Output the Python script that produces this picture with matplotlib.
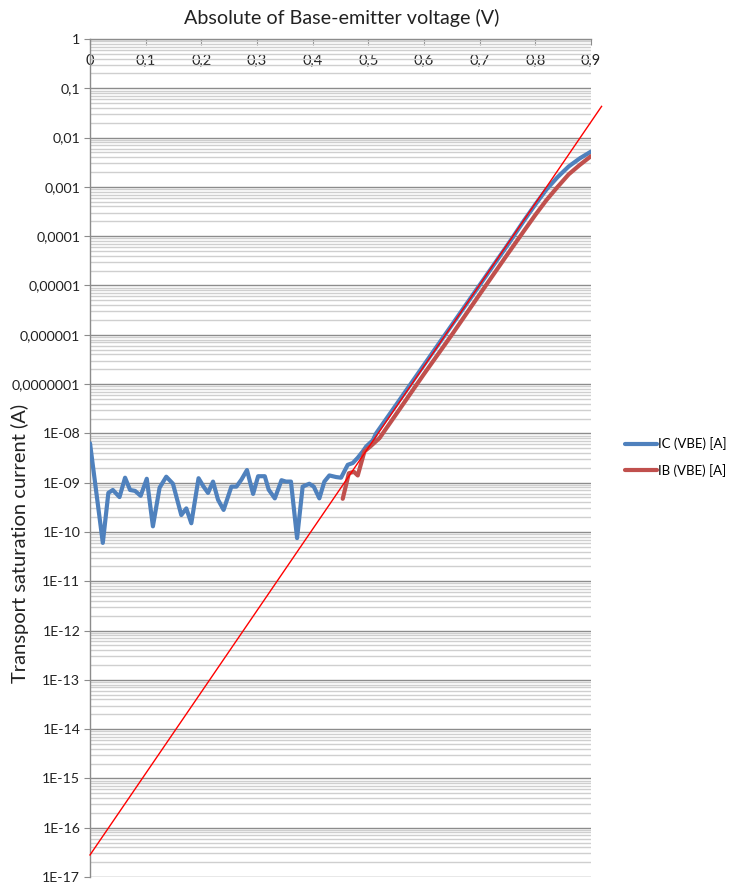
"""
Gummel-style plot: IC and IB against |VBE| on a log current axis
"""

import numpy as np
import matplotlib.pyplot as plt
from matplotlib.ticker import FixedLocator, FixedFormatter, NullFormatter

plt.rcParams["font.family"] = ["Lato", "DejaVu Sans"]

# collector current sweep
vbe_ic = [0.000, 0.023, 0.033, 0.041, 0.053, 0.063, 0.072, 0.081, 0.091, 0.102,
          0.113, 0.125, 0.137, 0.149, 0.164, 0.173, 0.182, 0.195, 0.204, 0.212,
          0.221, 0.230, 0.240, 0.254, 0.263, 0.272, 0.282, 0.293, 0.302, 0.314,
          0.321, 0.332, 0.344, 0.352, 0.361, 0.372, 0.382, 0.394, 0.402, 0.412,
          0.421, 0.430, 0.442, 0.451, 0.463, 0.472, 0.481, 0.490, 0.496, 0.508,
          0.514, 0.55, 0.60, 0.65, 0.70, 0.75, 0.78, 0.80, 0.82, 0.84,
          0.86, 0.88, 0.90]
ic = [6.3e-9, 6.0e-11, 6.2e-10, 7.1e-10, 5.1e-10, 1.26e-9, 7.1e-10, 6.8e-10, 5.4e-10, 1.2e-9,
      1.3e-10, 7.9e-10, 1.32e-9, 9.5e-10, 2.2e-10, 3.0e-10, 1.5e-10, 1.23e-9, 8.3e-10, 6.2e-10,
      1.05e-9, 4.5e-10, 2.8e-10, 8.3e-10, 8.3e-10, 1.15e-9, 1.8e-9, 5.9e-10, 1.35e-9, 1.35e-9,
      7.2e-10, 4.8e-10, 1.12e-9, 1.05e-9, 1.05e-9, 7.5e-11, 8.3e-10, 9.5e-10, 8.3e-10, 4.8e-10,
      1.05e-9, 1.4e-9, 1.3e-9, 1.26e-9, 2.3e-9, 2.5e-9, 3.2e-9, 4.3e-9, 5.4e-9, 7.2e-9,
      1.0e-8, 3.8e-8, 2.45e-7, 1.58e-6, 1.02e-5, 6.6e-5, 2.1e-4, 4.4e-4, 8.9e-4, 1.58e-3,
      2.6e-3, 3.8e-3, 5.2e-3]

# base current sweep
vbe_ib = [0.454, 0.465, 0.474, 0.481, 0.493, 0.505, 0.52, 0.55, 0.60, 0.65,
          0.70, 0.75, 0.78, 0.80, 0.82, 0.84, 0.86, 0.88, 0.90]
ib = [4.7e-10, 1.55e-9, 1.66e-9, 1.4e-9, 4.3e-9, 5.6e-9, 8.0e-9, 2.45e-8, 1.6e-7, 1.0e-6,
      6.6e-6, 4.3e-5, 1.3e-4, 2.7e-4, 5.4e-4, 1.0e-3, 1.8e-3, 2.8e-3, 4.2e-3]

# exponential trendline end points
trend_v = [0.0, 0.919]
trend_i = [2.8e-17, 0.043]

y_ticks = [10.0 ** -k for k in range(18)]
y_labels = ["1", "0,1", "0,01", "0,001", "0,0001", "0,00001", "0,000001", "0,0000001",
            "1E-08", "1E-09", "1E-10", "1E-11", "1E-12", "1E-13", "1E-14", "1E-15",
            "1E-16", "1E-17"]
x_ticks = [0.0, 0.1, 0.2, 0.3, 0.4, 0.5, 0.6, 0.7, 0.8, 0.9]
x_labels = ["0", "0,1", "0,2", "0,3", "0,4", "0,5", "0,6", "0,7", "0,8", "0,9"]

fig = plt.figure(figsize=(7.32, 8.86), dpi=100)
ax = fig.add_axes([90 / 732, 1 - 877 / 886, 501 / 732, 838 / 886])

ax.set_yscale("log")
ax.set_ylim(1e-17, 1)
ax.set_xlim(0, 0.9)

ax.plot(vbe_ic, ic, color="#4F81BD", lw=3.0, solid_joinstyle="round",
        solid_capstyle="round", label="IC (VBE) [A]", zorder=3)
ax.plot(vbe_ib, ib, color="#C0504D", lw=3.0, solid_joinstyle="round",
        solid_capstyle="round", label="IB (VBE) [A]", zorder=4)
ax.plot(trend_v, trend_i, color="#FF0000", lw=1.0, clip_on=False, zorder=5)

# y axis: major + minor horizontal grid
ax.yaxis.set_major_locator(FixedLocator(y_ticks))
ax.yaxis.set_major_formatter(FixedFormatter(y_labels))
ax.yaxis.set_minor_locator(FixedLocator(
    [m * 10.0 ** -k for k in range(1, 18) for m in range(2, 10)]))
ax.yaxis.set_minor_formatter(NullFormatter())
ax.grid(which="major", axis="y", color="#8c8c8c", lw=1.0)
ax.grid(which="minor", axis="y", color="#cfcfcf", lw=1.0)
ax.tick_params(axis="y", which="major", direction="out", length=4, width=0.8,
               color="#8c8c8c", labelsize=10.2, pad=3, labelcolor="#222222")
ax.tick_params(axis="y", which="minor", length=0)

# x axis drawn along the top, labels sitting just under it
ax.xaxis.set_major_locator(FixedLocator(x_ticks))
ax.xaxis.set_major_formatter(FixedFormatter(x_labels))
ax.tick_params(axis="x", bottom=False, labelbottom=False, top=True, labeltop=True,
               direction="in", length=4, width=0.8, color="#8c8c8c",
               labelsize=10.5, pad=-21, labelcolor="#222222")

for side in ["right", "bottom"]:
    ax.spines[side].set_visible(False)
for side in ["left", "top"]:
    ax.spines[side].set_color("#8c8c8c")
    ax.spines[side].set_linewidth(1.0)

fig.text(342 / 732, 1 - 18 / 886, "Absolute of Base-emitter voltage (V)",
         ha="center", va="center", fontsize=14.2, color="#222222")
fig.text(20 / 732, 1 - 543 / 886, "Transport saturation current (A)",
         ha="center", va="center", rotation=90, fontsize=14.5, color="#222222")

fig.legend(loc="center left", bbox_to_anchor=(613 / 732, 1 - 457 / 886),
           frameon=False, fontsize=9.5, handlelength=2.4, handletextpad=0.1,
           labelspacing=1.0)

fig.savefig("out.png", dpi=100, facecolor="white")
plt.close()
